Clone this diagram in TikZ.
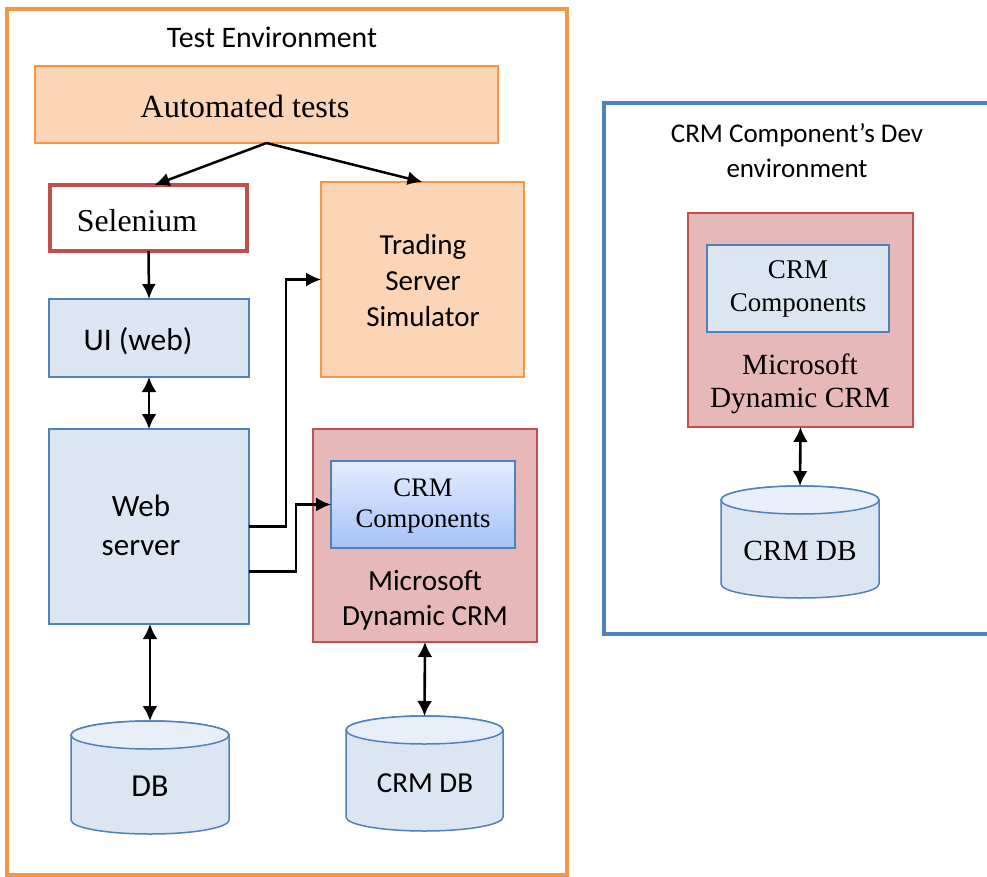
\documentclass[tikz,border=0pt]{standalone}
\usepackage{fontspec}
\setmainfont{Liberation Serif}
\newfontfamily\calfont{Carlito}
\usetikzlibrary{arrows.meta,calc}
\definecolor{orln}{HTML}{F79646}
\definecolor{peach}{HTML}{FBD5B5}
\definecolor{blueln}{HTML}{4F81BD}
\definecolor{ltblue}{HTML}{DCE6F2}
\definecolor{cyltopc}{HTML}{E9EFF8}
\definecolor{redln}{HTML}{C0504D}
\definecolor{pinkf}{HTML}{E6B9B8}
\definecolor{gradtop}{HTML}{E4ECFF}
\definecolor{gradbot}{HTML}{A6C3F6}
\tikzset{
  box/.style={inner sep=0pt, outer sep=0pt, line width=1.5pt},
  peachbox/.style={box, draw=orln, fill=peach},
  bluebox/.style={box, draw=blueln, fill=ltblue},
  pinkbox/.style={box, draw=redln, fill=pinkf},
  framebox/.style={inner sep=0pt, outer sep=0pt},
  cylbody/.style={draw=blueln, fill=ltblue, line width=1.5pt},
  cyltop/.style={draw=blueln, fill=cyltopc, line width=1.5pt},
  sanstxt/.style={inner sep=0pt, align=center, font=\calfont\fontsize{29}{36}\selectfont},
  sertxt/.style={inner sep=0pt, align=center, font=\fontsize{29}{33}\selectfont},
  arr/.style={line width=2.5pt, -{Latex[length=15pt,width=14pt]}},
  darr/.style={line width=2.6pt, {Latex[length=15pt,width=15pt]}-{Latex[length=15pt,width=15pt]}},
}
\newcommand\mycylinder[2]{%
  \path[cylbody] ([yshift=-14pt]#1.north west) -- ([yshift=14pt]#1.south west)
    arc[start angle=180,end angle=360,x radius=#2,y radius=14pt]
    -- ([yshift=-14pt]#1.north east)
    arc[start angle=0,end angle=180,x radius=#2,y radius=14pt] -- cycle;
  \path[cyltop] ([yshift=-14pt]#1.north) ellipse[x radius=#2, y radius=14pt];
}
\begin{document}
\begin{tikzpicture}[x=1pt,y=1pt]
\clip (0,0) rectangle (987,-877);
\fill[white] (0,0) rectangle (987,-877);

% ---------- Test environment ----------
\node[framebox, draw=orln, line width=4pt, minimum width=560pt, minimum height=866pt] (testenv) at (287,-442) {};
\node[sanstxt, font=\calfont\fontsize{29.8}{34}\selectfont] (testtitle) at (272,-37) {Test Environment};

\node[peachbox, minimum width=463pt, minimum height=77pt] (auto) at (266.5,-104.5) {};
\node[sertxt, font=\fontsize{32.3}{36}\selectfont] (autot) at (245,-106) {Automated tests};

\node[box, draw=redln, fill=white, line width=4pt, minimum width=197pt, minimum height=66pt] (selenium) at (148.5,-218) {};
\node[sertxt, font=\fontsize{31.8}{36}\selectfont] (seleniumt) at (137,-221) {Selenium};

\node[peachbox, minimum width=203pt, minimum height=195pt] (trading) at (422.5,-279.5) {};
\node[sanstxt] (tradingt) at (423,-281) {Trading\\Server\\Simulator};

\node[bluebox, minimum width=200pt, minimum height=78pt] (ui) at (149,-338) {};
\node[sanstxt, font=\calfont\fontsize{31.5}{38}\selectfont] (uit) at (138,-341) {UI (web)};

\node[bluebox, minimum width=200pt, minimum height=195pt] (web) at (149,-526.5) {};
\node[sanstxt, font=\calfont\fontsize{31}{39}\selectfont] (webt) at (141,-525) {Web\\server};

\node[pinkbox, minimum width=224pt, minimum height=213pt] (mscrm1) at (425,-535.5) {};
\node[sanstxt, font=\calfont\fontsize{29.2}{35}\selectfont] (mscrm1t) at (425,-600) {Microsoft\\Dynamic CRM};

\node[box, draw=blueln, top color=gradtop, bottom color=gradbot, minimum width=184pt, minimum height=87pt] (comp1) at (423,-504.5) {};
\node[sertxt, font=\fontsize{26.7}{31}\selectfont] (comp1t) at (423,-506) {CRM\\Components};

\node[framebox, minimum width=158pt, minimum height=113pt] (db1) at (150,-777.5) {};
\mycylinder{db1}{79pt}
\node[sanstxt, font=\calfont\fontsize{32}{38}\selectfont] (db1t) at (150,-786) {DB};

\node[framebox, minimum width=157pt, minimum height=115pt] (crmdb1) at (424.5,-773.5) {};
\mycylinder{crmdb1}{78.5pt}
\node[sanstxt] (crmdb1t) at (425,-783) {CRM DB};

% connectors (test env)
\draw[arr] (auto.south) -- ([xshift=6pt]selenium.north);
\draw[arr] (auto.south) -- (trading.north);
\draw[arr] (selenium.south) -- (ui.north);
\draw[darr] (ui.south) -- (web.north);
\draw[arr, line width=2.2pt] (web.east) -- ++(37,0) |- (trading.west);
\draw[arr, line width=2.2pt] ([yshift=-45pt]web.east) -- ++(47,0) |- (comp1.west);
\draw[darr] ([xshift=1pt]web.south) -- (db1.north);
\draw[darr] (mscrm1.south) -- (crmdb1.north);

% ---------- Dev environment ----------
\node[framebox, draw=blueln, line width=4pt, minimum width=396pt, minimum height=531pt] (devenv) at (802,-368.5) {};
\node[sanstxt, font=\calfont\fontsize{27}{35}\selectfont] (devtitle) at (797,-151) {CRM Component’s Dev\\environment};

\node[pinkbox, minimum width=225pt, minimum height=214pt] (mscrm2) at (800.5,-320) {};
\node[sertxt, font=\fontsize{29.3}{33}\selectfont] (mscrm2t) at (800,-384) {Microsoft\\Dynamic CRM};

\node[bluebox, minimum width=182pt, minimum height=87pt] (comp2) at (798,-288.5) {};
\node[sertxt, font=\fontsize{27}{33}\selectfont] (comp2t) at (798,-289) {CRM\\Components};

\node[framebox, minimum width=158pt, minimum height=112pt] (crmdb2) at (800,-542) {};
\mycylinder{crmdb2}{79pt}
\node[sertxt, font=\fontsize{29.3}{33}\selectfont] (crmdb2t) at (800,-551) {CRM DB};

\draw[darr] (mscrm2.south) -- (crmdb2.north);
\end{tikzpicture}
\end{document}
